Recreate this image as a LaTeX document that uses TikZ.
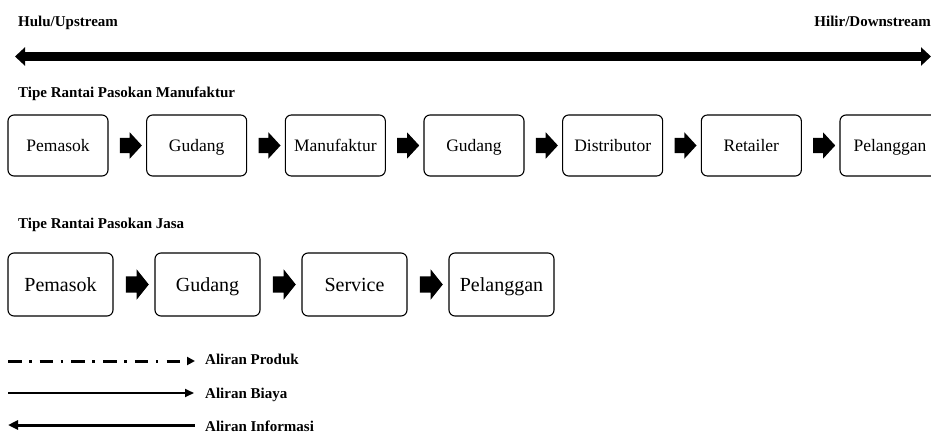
\documentclass[tikz,border=0pt]{standalone}
\usepackage{fontspec}
\setmainfont{Liberation Serif}
\usetikzlibrary{arrows.meta,shapes.arrows,calc}
\begin{document}
\begin{tikzpicture}[x=1pt,y=-1pt,
  lbl/.style={font=\fontsize{15}{18}\selectfont\bfseries, inner sep=0pt, anchor=base west},
  boxa/.style={draw, line width=1.1pt, rounded corners=6pt, minimum width=100pt, minimum height=61pt, inner sep=0pt, text height=14pt, text depth=2.4pt, font=\fontsize{17.5}{20}\selectfont},
  boxb/.style={draw, line width=1.1pt, rounded corners=6pt, minimum width=105pt, minimum height=63pt, inner sep=0pt, text height=16pt, text depth=2.8pt, font=\fontsize{20}{24}\selectfont},
  barra/.style={single arrow, fill=black, draw=none, inner xsep=0pt, inner ysep=7.5pt, minimum height=22pt, single arrow head extend=5.5pt, single arrow tip angle=94.6},
  barrb/.style={single arrow, fill=black, draw=none, inner xsep=0pt, inner ysep=8pt, minimum height=23pt, single arrow head extend=7pt, single arrow tip angle=102.7}
]
\useasboundingbox (0,0) rectangle (931,433);

% header
\node[lbl] (hulu) at (18,27) {Hulu/Upstream};
\node[lbl, anchor=base east] (hilir) at (931,27) {Hilir/Downstream};
\coordinate (ul) at (15,56.5);
\coordinate (ur) at (931,56.5);
\draw[line width=8.5pt, {Triangle[length=10pt,width=18pt]}-{Triangle[length=10pt,width=18pt]}] (ul) -- (ur);

% manufacturing chain
\node[lbl] (tman) at (18,98) {Tipe Rantai Pasokan Manufaktur};
\node[boxa] (m1) at (58,145.5) {Pemasok};
\node[boxa] (m2) at (196.67,145.5) {Gudang};
\node[boxa] (m3) at (335.33,145.5) {Manufaktur};
\node[boxa] (m4) at (474,145.5) {Gudang};
\node[boxa] (m5) at (612.67,145.5) {Distributor};
\node[boxa] (m6) at (751.33,145.5) {Retailer};
\node[boxa] (m7) at (890,145.5) {Pelanggan};
\node[barra] (am1) at ($(m1.east)!0.5!(m2.west)$) {};
\node[barra] (am2) at ($(m2.east)!0.5!(m3.west)$) {};
\node[barra] (am3) at ($(m3.east)!0.5!(m4.west)$) {};
\node[barra] (am4) at ($(m4.east)!0.5!(m5.west)$) {};
\node[barra] (am5) at ($(m5.east)!0.5!(m6.west)$) {};
\node[barra] (am6) at ($(m6.east)!0.5!(m7.west)$) {};

% service chain
\node[lbl] (tjasa) at (18,228) {Tipe Rantai Pasokan Jasa};
\node[boxb] (s1) at (60.5,284.5) {Pemasok};
\node[boxb] (s2) at (207.5,284.5) {Gudang};
\node[boxb] (s3) at (354.5,284.5) {Service};
\node[boxb] (s4) at (501.5,284.5) {Pelanggan};
\node[barrb] (as1) at ($(s1.east)!0.5!(s2.west)$) {};
\node[barrb] (as2) at ($(s2.east)!0.5!(s3.west)$) {};
\node[barrb] (as3) at ($(s3.east)!0.5!(s4.west)$) {};

% legend
\node[lbl] (lprod) at (205,364) {Aliran Produk};
\node[lbl] (lbiaya) at (205,398) {Aliran Biaya};
\node[lbl] (linfo) at (205,431) {Aliran Informasi};
\coordinate (p0) at (8,361);
\coordinate (p1) at (195,361);
\coordinate (b0) at (8,393);
\coordinate (b1) at (194,393);
\coordinate (i0) at (8,425);
\coordinate (i1) at (195,425);
\draw[line width=3pt, dash pattern=on 13.5pt off 7.5pt on 2.5pt off 8.2pt, -{Triangle[length=8pt,width=8pt]}] (p0) -- (p1);
\draw[line width=2pt, -{Triangle[length=9pt,width=8pt]}] (b0) -- (b1);
\draw[line width=3pt, {Triangle[length=10pt,width=9pt]}-] (i0) -- (i1);
\end{tikzpicture}
\end{document}
